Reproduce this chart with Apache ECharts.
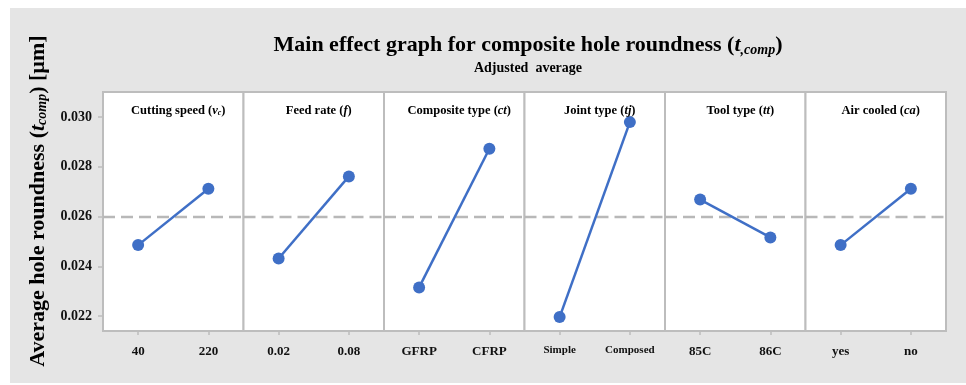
<!DOCTYPE html>
<html>
<head>
<meta charset="utf-8">
<script src="https://cdn.jsdelivr.net/npm/echarts@6/dist/echarts.min.js"></script>
<style>html,body{margin:0;padding:0;background:#fff;}#c{width:966px;height:385px;}</style>
</head>
<body>
<div id="c"></div>
<script>
// ---- data ----
const factorNames = ['Cutting speed', 'Feed rate', 'Composite type', 'Joint type', 'Tool type', 'Air cooled'];
const factorSymbols = ['v', 'f', 'ct', 'tj', 'tt', 'ca'];
const levels = [['40', '220'], ['0.02', '0.08'], ['GFRP', 'CFRP'], ['Simple', 'Composed'], ['85C', '86C'], ['yes', 'no']];
const cuttingSpeed = [0.02485, 0.02711];
const feedRate = [0.02431, 0.02761];
const compositeType = [0.02315, 0.02872];
const jointType = [0.02196, 0.02979];
const toolType = [0.02668, 0.02516];
const airCooled = [0.02485, 0.02711];
const grandMean = 0.02598;
const yTicks = [0.022, 0.024, 0.026, 0.028, 0.030];
const yMin = 0.0214, yMax = 0.0310;

const seriesValues = [cuttingSpeed, feedRate, compositeType, jointType, toolType, airCooled];
const serif = '"Liberation Serif", "DejaVu Serif", serif';
const blue = '#3f6fc6';

const left0 = 103, panelW = 140.5, top0 = 92, panelH = 239;
const grids = [], xAxes = [], yAxes = [], series = [], titles = [];

titles.push({
  text: 'Main effect graph for composite hole roundness ({i|t}{s|,comp})',
  left: 523, top: 28, textAlign: 'center',
  textStyle: {
    fontFamily: serif, fontWeight: 'bold', fontSize: 22, color: '#000',
    rich: {
      i: {fontFamily: serif, fontWeight: 'bold', fontStyle: 'italic', fontSize: 22, color: '#000'},
      s: {fontFamily: serif, fontWeight: 'bold', fontStyle: 'italic', fontSize: 14, color: '#000', padding: [10, 0, 0, 0]}
    }
  }
});
titles.push({
  text: 'Adjusted  average', left: 523, top: 56, textAlign: 'center',
  textStyle: {fontFamily: serif, fontWeight: 'bold', fontSize: 14, color: '#000'}
});

for (let i = 0; i < 6; i++) {
  const L = left0 + i * panelW;
  grids.push({left: L, top: top0, width: panelW, height: panelH, show: true,
    borderColor: '#bdbdbd', borderWidth: 2, backgroundColor: '#fff'});
  const sym = factorSymbols[i];
  const titleText = i === 0
    ? factorNames[i] + ' ({i|v}{s|c})'
    : factorNames[i] + ' ({i|' + sym + '})';
  titles.push({
    text: titleText, left: L + panelW / 2, top: 99, textAlign: 'center',
    textStyle: {
      fontFamily: serif, fontWeight: 'bold', fontSize: 12.5, color: '#000',
      rich: {
        i: {fontFamily: serif, fontWeight: 'bold', fontStyle: 'italic', fontSize: 12.5, color: '#000'},
        s: {fontFamily: serif, fontWeight: 'bold', fontStyle: 'italic', fontSize: 8, color: '#000', padding: [5, 0, 0, 0]}
      }
    }
  });
  const small = i === 3;
  xAxes.push({
    type: 'category', gridIndex: i, data: levels[i], boundaryGap: true,
    axisLine: {show: false},
    axisTick: {show: true, alignWithLabel: true, length: 4, lineStyle: {color: '#bdbdbd', width: 1.5}},
    axisLabel: {margin: 14, fontFamily: serif, fontWeight: 'bold', fontSize: small ? 11 : 13, color: '#111'}
  });
  // hidden helper x axis spanning the full panel width, for the grand-mean reference line
  xAxes.push({type: 'value', gridIndex: i, min: 0, max: 1, show: false});
  yAxes.push({
    type: 'value', gridIndex: i, min: yMin, max: yMax,
    splitLine: {show: false},
    axisLine: {show: false},
    axisTick: {show: i === 0, length: 5, customValues: yTicks, lineStyle: {color: '#bdbdbd', width: 1.5}},
    axisLabel: {show: i === 0, customValues: yTicks, margin: 11,
      formatter: v => v.toFixed(3),
      fontFamily: serif, fontWeight: 'bold', fontSize: 14, color: '#111'}
  });
  series.push({
    type: 'line', xAxisIndex: 2 * i + 1, yAxisIndex: i,
    data: [[0, grandMean], [1, grandMean]],
    symbol: 'none', silent: true, z: 1,
    lineStyle: {color: '#b8b8b8', type: [12, 6], width: 2.5}
  });
  series.push({
    type: 'line', xAxisIndex: 2 * i, yAxisIndex: i, data: seriesValues[i],
    symbol: 'circle', symbolSize: 12,
    lineStyle: {color: blue, width: 2.5}, itemStyle: {color: blue},
    z: 5
  });
}

const chart = echarts.init(document.getElementById('c'), null, {renderer: 'canvas'});
chart.setOption({
  animation: false,
  backgroundColor: '#fff',
  graphic: [
    {type: 'rect', shape: {x: 10, y: 8, width: 956, height: 375}, style: {fill: '#e5e5e5'}, z: -10, silent: true},
    {type: 'text', x: 38, y: 201, rotation: Math.PI / 2, silent: true, z: 10,
      style: {
        text: 'Average hole roundness ({i|t}{s|comp}) [µm]',
        fontFamily: serif, fontWeight: 'bold', fontSize: 22, fill: '#000',
        align: 'center', verticalAlign: 'middle',
        rich: {
          i: {fontFamily: serif, fontWeight: 'bold', fontStyle: 'italic', fontSize: 22, fill: '#000'},
          s: {fontFamily: serif, fontWeight: 'bold', fontStyle: 'italic', fontSize: 14, fill: '#000', padding: [8, 0, 0, 0]}
        }
      }}
  ],
  title: titles,
  grid: grids,
  xAxis: xAxes,
  yAxis: yAxes,
  series: series
});
</script>
</body>
</html>
